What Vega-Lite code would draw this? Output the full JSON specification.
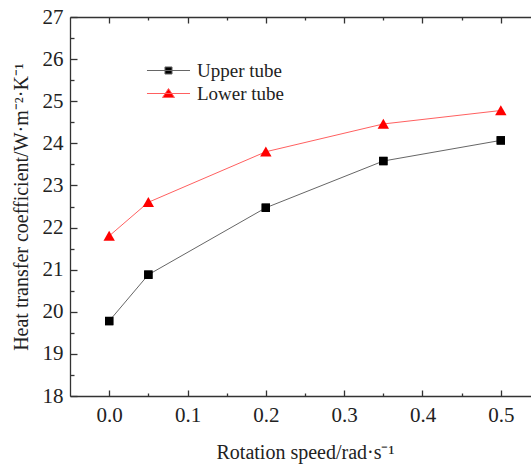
{
  "$schema": "https://vega.github.io/schema/vega-lite/v6.json",
  "autosize": {"type": "none"},
  "padding": {"left": 70, "top": 17, "right": 0, "bottom": 68},
  "width": 470,
  "height": 379,
  "background": "white",
  "config": {
    "view": {"stroke": null},
    "font": "Liberation Serif",
    "axis": {
      "grid": false,
      "domainColor": "#333333",
      "tickColor": "#333333",
      "domainWidth": 1.3,
      "tickWidth": 1.3,
      "labelFont": "Liberation Serif",
      "titleFont": "Liberation Serif",
      "labelFontSize": 21,
      "titleFontSize": 20,
      "titleFontWeight": "normal",
      "labelColor": "#222222",
      "titleColor": "#222222",
      "labelFlush": false,
      "labelOverlap": false
    }
  },
  "data": {
    "values": [
      {"speed": 0.0, "h": 19.78, "series": "Upper tube"},
      {"speed": 0.05, "h": 20.88, "series": "Upper tube"},
      {"speed": 0.2, "h": 22.47, "series": "Upper tube"},
      {"speed": 0.35, "h": 23.58, "series": "Upper tube"},
      {"speed": 0.5, "h": 24.07, "series": "Upper tube"},
      {"speed": 0.0, "h": 21.8, "series": "Lower tube"},
      {"speed": 0.05, "h": 22.6, "series": "Lower tube"},
      {"speed": 0.2, "h": 23.8, "series": "Lower tube"},
      {"speed": 0.35, "h": 24.46, "series": "Lower tube"},
      {"speed": 0.5, "h": 24.78, "series": "Lower tube"}
    ]
  },
  "layer": [
    {
      "mark": {"type": "line", "strokeWidth": 1},
      "encoding": {
        "x": {
          "field": "speed",
          "type": "quantitative",
          "scale": {"domain": [-0.05, 0.55], "nice": false, "zero": false},
          "axis": {
            "orient": "bottom",
            "title": "Rotation speed/rad·s⁻¹",
            "values": [0, 0.1, 0.2, 0.3, 0.4, 0.5],
            "format": ".1f",
            "labelFont": "Liberation Serif",
            "tickSize": -6,
            "labelPadding": 14,
            "titlePadding": 17
          }
        },
        "y": {
          "field": "h",
          "type": "quantitative",
          "scale": {"domain": [18, 27], "nice": false, "zero": false},
          "axis": {
            "orient": "left",
            "title": "Heat transfer coefficient/W·m⁻²·K⁻¹",
            "values": [18, 19, 20, 21, 22, 23, 24, 25, 26, 27],
            "format": "d",
            "labelFont": "Liberation Serif",
            "tickSize": -7,
            "labelPadding": 14,
            "titlePadding": 11
          }
        },
        "color": {
          "field": "series",
          "type": "nominal",
          "scale": {"domain": ["Upper tube", "Lower tube"], "range": ["#666666", "#ff6060"]},
          "legend": {
            "title": null,
            "orient": "none",
            "legendX": 89,
            "legendY": 44,
            "padding": 0,
            "labelFont": "Liberation Serif",
            "labelFontSize": 19,
            "labelColor": "#222222",
            "symbolSize": 256,
            "symbolStrokeWidth": 1,
            "labelOffset": 19,
            "rowPadding": 3,
            "encode": {
              "symbols": {
                "update": {
                  "shape": {"signal": "datum.value === 'Upper tube' ? 'M-2.69,0H2.69M-0.44,-0.44H0.44V0.44H-0.44Z' : 'M-2.69,0H2.69M0,-0.62L0.75,0.5H-0.75Z'"},
                  "stroke": {"signal": "datum.value === 'Upper tube' ? '#666666' : '#ff6a6a'"},
                  "fill": {"signal": "datum.value === 'Upper tube' ? '#000000' : '#ff0000'"},
                  "strokeWidth": {"value": 1},
                  "opacity": {"value": 1}
                }
              }
            }
          }
        }
      }
    },
    {
      "transform": [{"filter": "datum.series === 'Upper tube'"}],
      "mark": {"type": "point", "filled": true, "opacity": 1, "strokeWidth": 0, "size": 70, "shape": "square", "fill": "#000000"},
      "encoding": {
        "x": {
          "field": "speed",
          "type": "quantitative",
          "scale": {"domain": [-0.05, 0.55], "nice": false, "zero": false},
          "axis": {
            "orient": "bottom",
            "title": null,
            "labels": false,
            "domain": false,
            "values": [0.05, 0.15, 0.25, 0.35, 0.45],
            "tickSize": -3
          }
        },
        "y": {
          "field": "h",
          "type": "quantitative",
          "scale": {"domain": [18, 27], "nice": false, "zero": false},
          "axis": {
            "orient": "left",
            "title": null,
            "labels": false,
            "domain": false,
            "values": [18.5, 19.5, 20.5, 21.5, 22.5, 23.5, 24.5, 25.5, 26.5],
            "tickSize": -4
          }
        }
      }
    },
    {
      "transform": [{"filter": "datum.series === 'Lower tube'"}],
      "mark": {"type": "point", "filled": true, "opacity": 1, "strokeWidth": 0, "size": 70, "shape": "M0,-1.24L1.36,1.12H-1.36Z", "fill": "#ff0000"},
      "encoding": {
        "x": {
          "field": "speed",
          "type": "quantitative",
          "scale": {"domain": [-0.05, 0.55], "nice": false, "zero": false},
          "axis": {
            "orient": "top",
            "title": null,
            "labels": false,
            "values": [0, 0.1, 0.2, 0.3, 0.4, 0.5],
            "tickSize": -6
          }
        },
        "y": {
          "field": "h",
          "type": "quantitative",
          "scale": {"domain": [18, 27], "nice": false, "zero": false},
          "axis": null
        }
      }
    },
    {
      "transform": [{"filter": "datum.series === 'Upper tube'"}],
      "mark": {"type": "point", "filled": true, "opacity": 1, "strokeWidth": 0, "size": 70, "shape": "square", "fill": "#000000"},
      "encoding": {
        "x": {
          "field": "speed",
          "type": "quantitative",
          "scale": {"domain": [-0.05, 0.55], "nice": false, "zero": false},
          "axis": {
            "orient": "top",
            "title": null,
            "labels": false,
            "domain": false,
            "values": [0.05, 0.15, 0.25, 0.35, 0.45],
            "tickSize": -3
          }
        },
        "y": {
          "field": "h",
          "type": "quantitative",
          "scale": {"domain": [18, 27], "nice": false, "zero": false},
          "axis": null
        }
      }
    }
  ],
  "resolve": {"axis": {"x": "independent", "y": "independent"}}
}
